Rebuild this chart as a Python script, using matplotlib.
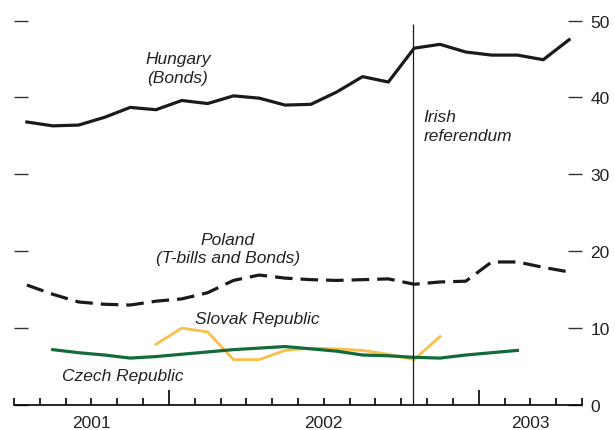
import numpy as np
import pandas as pd
import matplotlib
matplotlib.use('Agg')
import matplotlib.pyplot as plt

plt.rcParams['font.family'] = ['Liberation Sans', 'DejaVu Sans']

# Monthly spreads, Jul 2001 - Apr 2003
months = pd.period_range('2001-07', '2003-04', freq='M')
hungary = [36.8, 36.3, 36.4, 37.4, 38.7, 38.4, 39.6, 39.2, 40.2, 39.9, 39.0,
           39.1, 40.7, 42.7, 42.0, 46.4, 46.9, 45.9, 45.5, 45.5, 44.9, 47.5]
poland = [15.6, 14.4, 13.4, 13.1, 13.0, 13.5, 13.8, 14.6, 16.2, 16.9, 16.5,
          16.3, 16.2, 16.3, 16.4, 15.7, 16.0, 16.1, 18.6, 18.6, 17.9, 17.3]
czech = [np.nan, 7.2, 6.8, 6.5, 6.1, 6.3, 6.6, 6.9, 7.2, 7.4, 7.6,
         7.3, 7.0, 6.5, 6.4, 6.2, 6.1, 6.5, 6.8, 7.1, np.nan, np.nan]
slovak = [np.nan, np.nan, np.nan, np.nan, np.nan, 7.9, 10.0, 9.5, 5.9, 5.9, 7.1,
          7.4, 7.3, 7.1, 6.6, 5.9, 8.9, np.nan, np.nan, np.nan, np.nan, np.nan]
years = ['2001', '2002', '2003']
referendum = 15.45   # mid-October 2002, in months from Jul 2001

x = np.arange(len(months)) + 0.5
x_end = len(months)

fig = plt.figure(figsize=(6.15, 4.31), dpi=100)
ax = fig.add_axes([14 / 615, 25 / 431, 568 / 615, 384.5 / 431])

ax.plot(x, hungary, color='#1a1a1a', lw=2.3)
ax.plot(x, poland, color='#1a1a1a', lw=2.3, dashes=(5.5, 2.5))
ax.plot(x, slovak, color='#f9bf4b', lw=2.0)
ax.plot(x, czech, color='#146b3a', lw=2.3)
ax.vlines(referendum, 0, 49.5, color='#1a1a1a', lw=0.9)

ax.set_xlim(0, x_end)
ax.set_ylim(0, 50)

for s in ['left', 'right', 'top']:
    ax.spines[s].set_visible(False)
ax.spines['bottom'].set_linewidth(1.2)

# y axis: inward ticks both sides, labels on the right only
ax.set_yticks([0, 10, 20, 30, 40, 50])
ax.yaxis.set_ticks_position('both')
ax.tick_params(axis='y', direction='in', length=10, width=1.0, color='#333333',
               labelleft=False, labelright=True, labelsize=12.5, labelcolor='#222222', pad=6)

# x axis: monthly minor ticks, major ticks at January
jan = [i for i, m in enumerate(months) if m.month == 1]
ax.set_xticks(jan)
ax.set_xticklabels([])
ax.set_xticks(np.arange(0, x_end + 1), minor=True)
ax.tick_params(axis='x', which='major', direction='in', length=11, width=1.2)
ax.tick_params(axis='x', which='minor', direction='in', length=5, width=1.2)

edges = [0] + jan + [x_end]
for yr, a, b in zip(years, edges[:-1], edges[1:]):
    ax.text((a + b) / 2, -0.026, yr, transform=ax.get_xaxis_transform(),
            ha='center', va='top', fontsize=12.5, color='#222222')

lab = dict(fontsize=12.5, style='italic', color='#222222')
ax.text(6.35, 43.8, 'Hungary\n(Bonds)', ha='center', va='center', linespacing=1.3, **lab)
ax.text(8.28, 20.3, 'Poland\n(T-bills and Bonds)', ha='center', va='center', linespacing=1.25, **lab)
ax.text(7.0, 11.2, 'Slovak Republic', ha='left', va='center', **lab)
ax.text(1.86, 3.9, 'Czech Republic', ha='left', va='center', **lab)
ax.text(referendum + 0.41, 36.3, 'Irish\nreferendum', ha='left', va='center', linespacing=1.3, **lab)

fig.savefig('out.png', dpi=100)
